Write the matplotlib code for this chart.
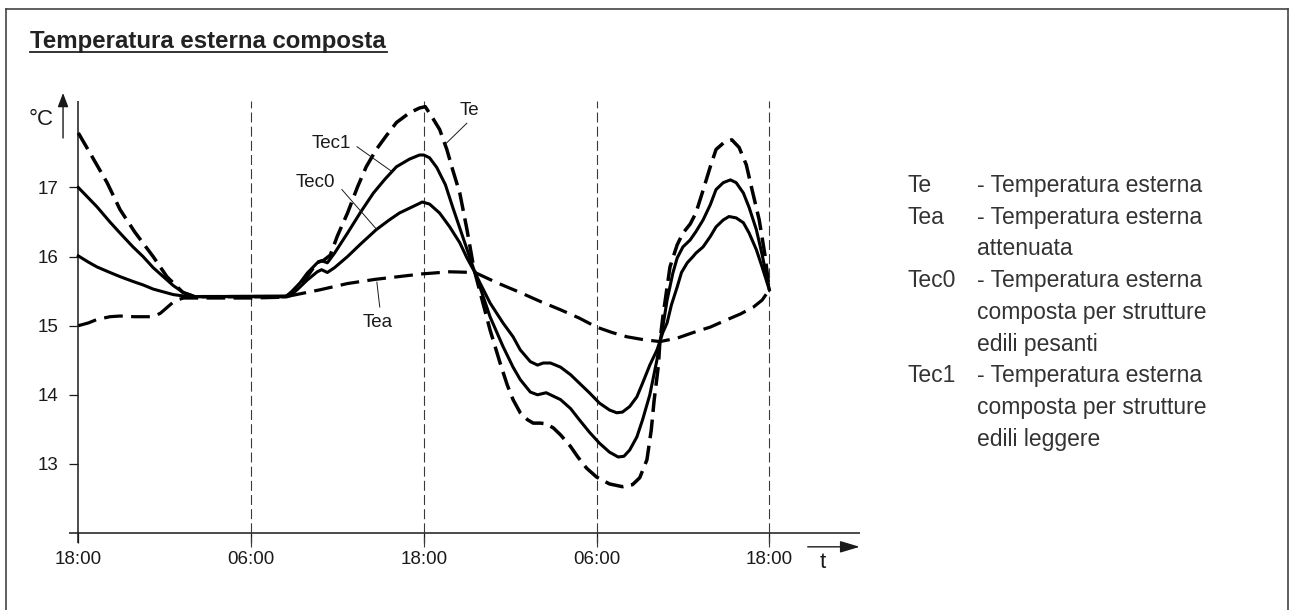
import matplotlib
matplotlib.use('Agg')
import matplotlib.pyplot as plt
from matplotlib.lines import Line2D

plt.rcParams['font.family'] = ['Liberation Sans', 'DejaVu Sans']
plt.rcParams['lines.scale_dashes'] = False

# ---------------- data (hours from first 18:00, temperature °C) ----------------
te_h = [0, 0.67, 2.0, 2.9, 3.94, 5.2, 6.15, 7.27, 8.1, 14.5, 14.7, 15.4, 15.9, 16.6, 17.0, 17.5, 18.0,
        18.7, 19.4, 20.0, 20.7, 21.4, 22.1, 23.0, 23.7, 24.1, 24.6, 25.1, 25.6, 26.0, 26.5, 27.0,
        27.4, 27.55, 28.6, 29.3, 29.8, 30.2, 30.7, 31.2, 31.6, 32.1, 32.5, 33.0, 33.5, 34.2, 34.7,
        35.3, 36.0, 36.9, 37.8, 38.5, 39.0, 39.5, 39.8, 40.0, 40.3, 40.4, 40.6, 41.1, 41.6, 42.0,
        42.5, 42.9, 43.4, 43.9, 44.3, 44.9, 45.4, 45.9, 46.4, 46.8, 47.3, 47.7, 48.0]
te_v = [17.79, 17.55, 17.07, 16.68, 16.35, 16.0, 15.71, 15.48, 15.42, 15.42, 15.45, 15.59, 15.71,
        15.92, 15.94, 16.02, 16.30, 16.63, 17.01, 17.30, 17.55, 17.75, 17.94, 18.08, 18.15, 18.17,
        18.01, 17.84, 17.55, 17.26, 16.92, 16.39, 15.92, 15.77, 14.94, 14.46, 14.14, 13.93, 13.74,
        13.64, 13.59, 13.59, 13.58, 13.52, 13.42, 13.25, 13.10, 12.94, 12.81, 12.71, 12.67, 12.70,
        12.80, 13.06, 13.49, 13.92, 14.43, 14.77, 15.12, 15.85, 16.17, 16.34, 16.47, 16.63, 16.96,
        17.30, 17.55, 17.66, 17.69, 17.58, 17.33, 16.97, 16.53, 16.02, 15.52]

tea_h = [0, 0.7, 1.3, 2.2, 2.9, 3.9, 5.2, 5.7, 6.2, 6.7, 7.3, 8.1, 12.0, 14.0, 14.9, 16.8, 18.7,
         20.6, 23.9, 25.8, 27.55, 29.1, 30.7, 32.1, 33.5, 34.8, 36.0, 37.1, 38.1, 39.2, 40.4, 41.6,
         42.7, 43.9, 45.1, 46.0, 46.9, 47.5, 48.0]
tea_v = [15.0, 15.04, 15.09, 15.13, 15.14, 15.13, 15.13, 15.18, 15.27, 15.36, 15.40, 15.40, 15.40,
         15.41, 15.44, 15.52, 15.61, 15.67, 15.75, 15.78, 15.77, 15.62, 15.48, 15.35, 15.23, 15.11,
         14.98, 14.90, 14.84, 14.80, 14.77, 14.82, 14.90, 14.98, 15.09, 15.17, 15.27, 15.37, 15.52]

tec1_h = [0, 1.3, 2.2, 2.9, 3.8, 4.5, 5.2, 5.9, 6.6, 7.3, 8.1, 14.4, 14.8, 15.4, 15.9, 16.6, 16.9,
          17.3, 17.8, 18.7, 19.6, 20.5, 21.3, 22.1, 23.0, 23.7, 24.0, 24.4, 24.9, 25.5, 26.0, 26.7,
          27.55, 27.9, 28.6, 29.5, 30.2, 30.7, 31.4, 31.9, 32.5, 33.5, 34.2, 34.8, 35.5, 36.2, 36.9,
          37.5, 37.9, 38.3, 38.8, 39.2, 39.7, 40.2, 40.4, 40.6, 40.9, 41.3, 41.6, 42.0, 42.5, 42.9,
          43.4, 43.9, 44.3, 44.8, 45.3, 45.7, 46.2, 46.6, 47.1, 47.5, 48.0]
tec1_v = [17.0, 16.72, 16.50, 16.34, 16.14, 16.0, 15.84, 15.71, 15.58, 15.48, 15.42, 15.42, 15.49,
          15.62, 15.76, 15.91, 15.94, 15.91, 16.05, 16.34, 16.64, 16.92, 17.12, 17.30, 17.41, 17.47,
          17.47, 17.43, 17.29, 17.04, 16.72, 16.29, 15.77, 15.56, 15.13, 14.70, 14.40, 14.22, 14.04,
          14.00, 14.03, 13.93, 13.80, 13.64, 13.46, 13.30, 13.17, 13.10, 13.11, 13.20, 13.39, 13.64,
          14.00, 14.51, 14.77, 14.98, 15.37, 15.76, 15.98, 16.14, 16.24, 16.36, 16.53, 16.75, 16.97,
          17.07, 17.11, 17.07, 16.92, 16.71, 16.39, 16.03, 15.52]

tec0_h = [0, 0.7, 1.3, 2.2, 2.9, 3.8, 4.5, 5.2, 5.9, 6.6, 7.3, 8.1, 14.7, 15.2, 15.9, 16.6, 16.9,
          17.3, 17.8, 18.7, 19.6, 20.7, 21.6, 22.3, 23.2, 23.9, 24.4, 25.1, 25.8, 26.5, 27.0, 27.55,
          27.9, 28.6, 29.5, 30.2, 30.7, 31.4, 31.9, 32.3, 32.8, 33.5, 34.2, 34.8, 35.5, 36.2, 36.9,
          37.4, 37.8, 38.3, 38.8, 39.2, 39.7, 40.2, 40.4, 40.6, 40.9, 41.2, 41.6, 41.9, 42.3, 42.7,
          42.9, 43.4, 43.9, 44.3, 44.8, 45.2, 45.7, 46.2, 46.6, 47.1, 47.5, 48.0]
tec0_v = [16.01, 15.92, 15.85, 15.77, 15.71, 15.64, 15.59, 15.53, 15.49, 15.45, 15.43, 15.42, 15.43,
          15.52, 15.66, 15.78, 15.81, 15.77, 15.84, 16.0, 16.18, 16.39, 16.53, 16.63, 16.72, 16.79,
          16.76, 16.63, 16.43, 16.20, 15.98, 15.77, 15.62, 15.33, 15.04, 14.84, 14.65, 14.48, 14.43,
          14.46, 14.46, 14.40, 14.29, 14.17, 14.03, 13.88, 13.78, 13.74, 13.75, 13.83, 13.97, 14.17,
          14.43, 14.65, 14.77, 14.90, 15.04, 15.30, 15.56, 15.77, 15.91, 16.0, 16.05, 16.14, 16.29,
          16.43, 16.53, 16.58, 16.56, 16.49, 16.34, 16.10, 15.85, 15.52]

x_tick_hours = [0, 12, 24, 36, 48]
x_tick_labels = ['18:00', '06:00', '18:00', '06:00', '18:00']
y_ticks = [13, 14, 15, 16, 17]

title = 'Temperatura esterna composta'
legend_rows = [
    ('Te', '- Temperatura esterna'),
    ('Tea', '- Temperatura esterna'),
    ('', 'attenuata'),
    ('Tec0', '- Temperatura esterna'),
    ('', 'composta per strutture'),
    ('', 'edili pesanti'),
    ('Tec1', '- Temperatura esterna'),
    ('', 'composta per strutture'),
    ('', 'edili leggere'),
]

# ---------------- figure ----------------
W, H = 1290, 610
fig = plt.figure(figsize=(W / 100, H / 100), dpi=100)

def fx(px):
    return px / W

def fy(py):
    return 1 - py / H

ax = fig.add_axes([fx(78.3), fy(533), 691 / W, 432.3 / H])
ax.set_xlim(0, 48)
ax.set_ylim(12, 18.256)
for s in ax.spines.values():
    s.set_visible(False)

ink = '#1a1a1a'
ax.set_xticks(x_tick_hours, x_tick_labels)
ax.set_yticks(y_ticks)
ax.tick_params(axis='x', length=7.2, width=0.9, pad=6.0, labelsize=13.5, colors=ink)
ax.tick_params(axis='y', length=6.5, width=0.9, pad=8.0, labelsize=13.5, colors=ink)

# axis lines
ax.plot([0, 0], [11.855, 18.256], color=ink, lw=1.1, clip_on=False, solid_capstyle='butt')
ax.plot([-0.646, 54.28], [12, 12], color=ink, lw=1.1, clip_on=False, solid_capstyle='butt')

# vertical dashed guide lines
for h in x_tick_hours[1:]:
    ax.plot([h, h], [11.80, 18.256], color='#3a3a3a', lw=0.8, dashes=(7.2, 3.0), clip_on=False)

# curves
ax.plot(tea_h, tea_v, color='black', lw=2.3, dashes=(13.5, 6.0), clip_on=False)
ax.plot(tec0_h, tec0_v, color='black', lw=2.2, solid_joinstyle='round', clip_on=False)
ax.plot(tec1_h, tec1_v, color='black', lw=2.2, solid_joinstyle='round', clip_on=False)
ax.plot(te_h, te_v, color='black', lw=2.5, dashes=(13.5, 5.5), clip_on=False)

# arrows
ax.annotate('', xy=(-1.06, 18.368), xytext=(-1.06, 17.716), annotation_clip=False,
            arrowprops=dict(arrowstyle='-|>,head_length=0.42,head_width=0.16', color=ink,
                            lw=1.0, mutation_scale=20, shrinkA=0, shrinkB=0))
ax.annotate('', xy=(54.28, 11.80), xytext=(50.67, 11.80), annotation_clip=False,
            arrowprops=dict(arrowstyle='-|>,head_length=0.6,head_width=0.18', color=ink,
                            lw=1.0, mutation_scale=20, shrinkA=0, shrinkB=0))
ax.text(-2.58, 17.99, '°C', fontsize=16, ha='center', va='center', color=ink)
ax.text(51.7, 11.58, 't', fontsize=16, ha='center', va='center', color=ink)

# curve labels with leader lines
lab_fs = 13.5
ax.text(27.2, 18.12, 'Te', fontsize=lab_fs, ha='center', va='center', color=ink)
ax.plot([26.99, 25.46], [17.93, 17.62], color=ink, lw=0.7)
ax.text(17.6, 17.63, 'Tec1', fontsize=lab_fs, ha='center', va='center', color=ink)
ax.plot([19.36, 21.79], [17.59, 17.23], color=ink, lw=0.7)
ax.text(16.5, 17.07, 'Tec0', fontsize=lab_fs, ha='center', va='center', color=ink)
ax.plot([18.31, 20.74], [16.97, 16.39], color=ink, lw=0.7)
ax.text(20.8, 15.05, 'Tea', fontsize=lab_fs, ha='center', va='center', color=ink)
ax.plot([20.74, 20.94], [15.63, 15.27], color=ink, lw=0.7)

# title with underline
fig.text(fx(30), fy(48), title, fontsize=17.3, fontweight='bold', va='baseline', ha='left',
         color='#222222')
fig.add_artist(Line2D([fx(30), fx(387)], [fy(51.5), fy(51.5)], color='#222222', lw=1.3))

# legend text
leg_color = '#333333'
leg_fs = 16.5
for i, (key, desc) in enumerate(legend_rows):
    yb = 192 + i * 31.7
    if key:
        fig.text(fx(908), fy(yb), key, fontsize=leg_fs, va='baseline', ha='left', color=leg_color)
    fig.text(fx(977), fy(yb), desc, fontsize=leg_fs, va='baseline', ha='left', color=leg_color)

# outer frame (left, top, right)
frame_c = '#444444'
fig.add_artist(Line2D([fx(5.5), fx(5.5)], [0, fy(9)], color=frame_c, lw=1.2))
fig.add_artist(Line2D([fx(5.5), fx(1288)], [fy(9), fy(9)], color=frame_c, lw=1.2))
fig.add_artist(Line2D([fx(1288), fx(1288)], [fy(9), 0], color=frame_c, lw=1.2))

fig.savefig('out.png', dpi=100)
